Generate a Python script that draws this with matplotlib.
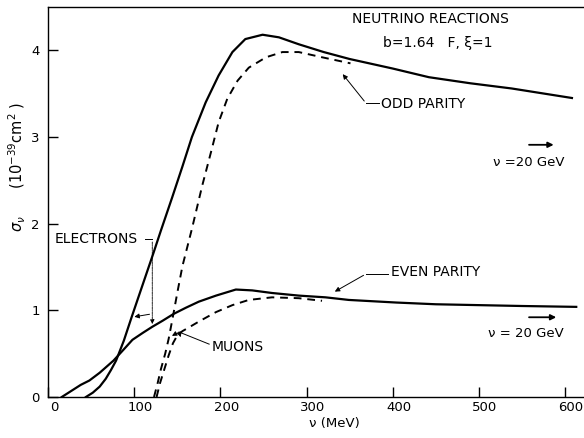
import matplotlib
matplotlib.use("Agg")
import matplotlib.pyplot as plt
import matplotlib.transforms as mtransforms

# odd parity, electrons (solid)
odd_e_x = [44, 52, 60, 67, 73, 79, 88, 97, 110, 122, 131, 144, 156, 167, 183, 198,
           214, 229, 249, 268, 291, 320, 350, 400, 442, 490, 538, 608]
odd_e_y = [0, 0.05, 0.12, 0.21, 0.31, 0.42, 0.65, 0.92, 1.30, 1.65, 1.92, 2.30, 2.66,
           3.00, 3.40, 3.71, 3.98, 4.13, 4.18, 4.15, 4.07, 3.98, 3.90, 3.79, 3.69,
           3.62, 3.56, 3.45]

# odd parity, muons (dashed)
odd_mu_x = [123, 127, 131, 136, 140, 145, 150, 156, 167, 179, 189, 198, 208, 220,
            233, 253, 272, 291, 318, 351]
odd_mu_y = [0, 0.15, 0.32, 0.5, 0.67, 0.93, 1.2, 1.51, 1.94, 2.44, 2.82, 3.17, 3.44,
            3.65, 3.80, 3.92, 3.98, 3.98, 3.92, 3.85]

# even parity, electrons (solid)
even_e_x = [16, 27, 38, 48, 60, 76, 88, 98, 110, 121, 133, 146, 160, 175, 195, 218,
            237, 260, 291, 322, 349, 404, 450, 500, 550, 613]
even_e_y = [0, 0.07, 0.14, 0.19, 0.28, 0.42, 0.55, 0.66, 0.74, 0.81, 0.88, 0.96,
            1.03, 1.10, 1.17, 1.24, 1.23, 1.20, 1.17, 1.15, 1.12, 1.09, 1.07, 1.06,
            1.05, 1.04]

# even parity, muons (dashed)
even_mu_x = [126, 130, 135, 140, 145, 150, 156, 163, 175, 195, 214, 233, 260, 291, 318]
even_mu_y = [0, 0.16, 0.32, 0.48, 0.62, 0.71, 0.76, 0.80, 0.87, 0.98, 1.06, 1.12,
             1.15, 1.14, 1.11]

x_ticks = [0, 100, 200, 300, 400, 500, 600]
y_ticks = [0, 1, 2, 3, 4]

fig = plt.figure(figsize=(5.84, 4.38), dpi=100)
ax = fig.add_axes([48 / 584, 41 / 438, 536 / 584, 390 / 438])

ax.plot(odd_e_x, odd_e_y, color="black", lw=1.6)
ax.plot(even_e_x, even_e_y, color="black", lw=1.6)
ax.plot(odd_mu_x, odd_mu_y, color="black", lw=1.4, ls=(0, (4, 3)))
ax.plot(even_mu_x, even_mu_y, color="black", lw=1.4, ls=(0, (4, 3)))

ax.set_xlim(0, 622)
ax.set_ylim(0, 4.5)
ax.set_xticks(x_ticks)
ax.set_yticks(y_ticks)
ax.tick_params(direction="in", length=7, width=1, labelsize=9.5)
ax.tick_params(axis="x", pad=3)
ax.tick_params(axis="y", pad=6)
ax.spines["right"].set_visible(False)
for s in ["left", "bottom", "top"]:
    ax.spines[s].set_linewidth(1)

# labels in the scan sit a little right of their ticks
shift = mtransforms.ScaledTranslation(6 / 100, 0, fig.dpi_scale_trans)
for lbl in ax.get_xticklabels():
    lbl.set_transform(lbl.get_transform() + shift)

ax.text(0.535, -0.068, "ν (MeV)", transform=ax.transAxes, ha="center", va="center", fontsize=9.5)
fig.text(0.030, 0.62, r"$\sigma_\nu$      (10$^{-39}$cm$^2$ )", rotation=90,
         ha="center", va="center", fontsize=10.5)

ax.text(444, 4.36, "NEUTRINO REACTIONS", ha="center", va="center", fontsize=10)
ax.text(452, 4.09, "b=1.64   F, ξ=1", ha="center", va="center", fontsize=10)

arw = dict(arrowstyle="-|>", color="black", lw=0.7, mutation_scale=7)

# odd parity label
ax.text(387, 3.38, "ODD PARITY", ha="left", va="center", fontsize=10)
ax.plot([369, 384], [3.39, 3.39], color="black", lw=0.7)
ax.annotate("", xy=(340, 3.75), xytext=(369, 3.39), arrowprops=arw)

# even parity label
ax.text(398, 1.44, "EVEN PARITY", ha="left", va="center", fontsize=10)
ax.plot([369, 395], [1.42, 1.42], color="black", lw=0.7)
ax.annotate("", xy=(330, 1.20), xytext=(369, 1.42), arrowprops=arw)

# electrons label
ax.text(8, 1.82, "ELECTRONS", ha="left", va="center", fontsize=10)
ax.plot([112, 121], [1.82, 1.82], color="black", lw=0.7)
ax.annotate("", xy=(121, 0.81), xytext=(121, 1.82),
            arrowprops=dict(arrowstyle="-|>", color="black", lw=0.6, ls=(0, (3, 1, 1, 1)),
                            mutation_scale=6))
ax.annotate("", xy=(97, 0.92), xytext=(121, 0.96), arrowprops=arw)

# muons label
ax.text(190, 0.58, "MUONS", ha="left", va="center", fontsize=10)
ax.plot([187, 152], [0.61, 0.75], color="black", lw=0.7)
ax.annotate("", xy=(141, 0.69), xytext=(152, 0.75), arrowprops=arw)
ax.annotate("", xy=(154, 0.69), xytext=(152, 0.75), arrowprops=arw)

# asymptotic values at 20 GeV
ax.annotate("", xy=(590, 2.91), xytext=(555, 2.91),
            arrowprops=dict(arrowstyle="-|>", color="black", lw=1.3, mutation_scale=8))
ax.text(599, 2.71, "ν =20 GeV", ha="right", va="center", fontsize=9.5)
ax.annotate("", xy=(593, 0.92), xytext=(555, 0.92),
            arrowprops=dict(arrowstyle="-|>", color="black", lw=1.3, mutation_scale=8))
ax.text(599, 0.73, "ν = 20 GeV", ha="right", va="center", fontsize=9.5)

fig.savefig("out.png", dpi=100)
